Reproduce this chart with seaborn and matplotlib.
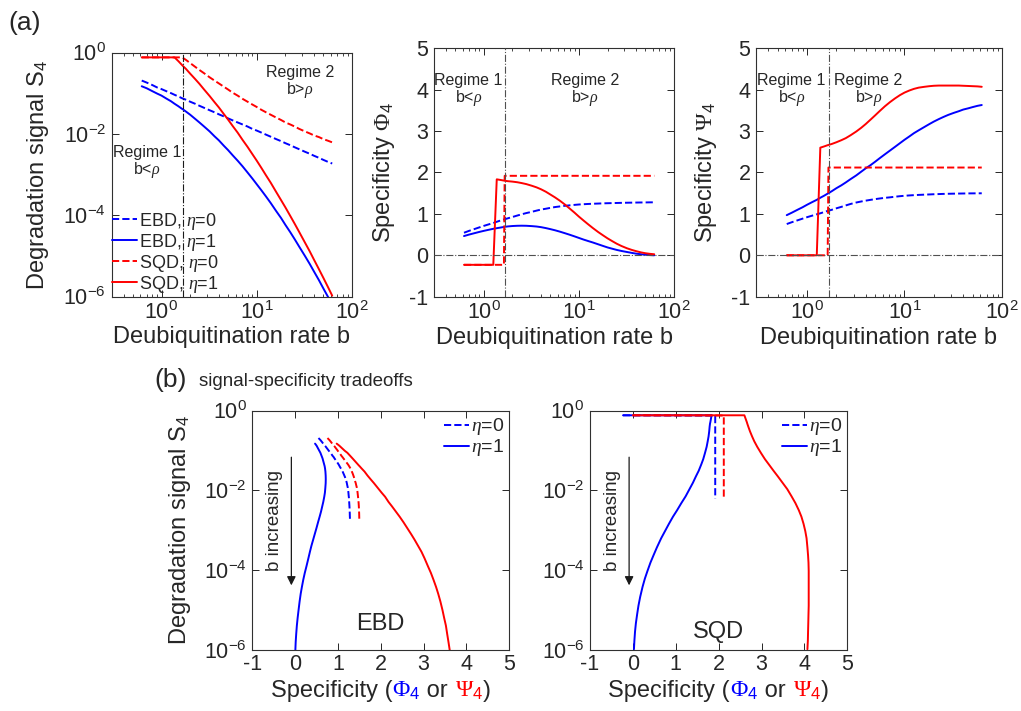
import numpy as np
import matplotlib
matplotlib.use("Agg")
import matplotlib.pyplot as plt
import seaborn as sns
from matplotlib.ticker import FixedLocator, NullLocator, LogLocator, NullFormatter
from matplotlib.offsetbox import TextArea, HPacker, AnchoredOffsetbox
from matplotlib.lines import Line2D

# ---------------- data ----------------
b_rate = [0.62, 0.7, 0.8, 0.9, 1.0, 1.12, 1.26, 1.37, 1.5, 1.63,
          1.66, 1.8, 2.0, 2.25, 2.5, 2.8, 3.2, 3.6, 4.0, 4.5,
          5.0, 5.6, 6.3, 7.1, 8.0, 9.0, 10, 11.2, 12.5, 14,
          16, 18, 20, 22.5, 25, 28, 32, 36, 40, 45,
          50, 56, 62]
rho = 1.67

# log10 of degradation signal S4
logS_EBD_eta0 = [-0.69, -0.74, -0.80, -0.86, -0.90, -0.95, -1.00, -1.04, -1.08, -1.12,
                 -1.13, -1.16, -1.21, -1.26, -1.31, -1.36, -1.42, -1.47, -1.52, -1.57,
                 -1.62, -1.67, -1.72, -1.77, -1.82, -1.88, -1.92, -1.97, -2.02, -2.07,
                 -2.13, -2.18, -2.23, -2.28, -2.33, -2.38, -2.44, -2.49, -2.54, -2.59,
                 -2.64, -2.69, -2.73]
logS_EBD_eta1 = [-0.83, -0.88, -0.95, -1.01, -1.06, -1.13, -1.20, -1.26, -1.32, -1.38,
                 -1.39, -1.45, -1.53, -1.63, -1.72, -1.82, -1.94, -2.06, -2.16, -2.29,
                 -2.40, -2.53, -2.66, -2.80, -2.95, -3.10, -3.24, -3.39, -3.54, -3.70,
                 -3.90, -4.07, -4.24, -4.42, -4.59, -4.78, -5.00, -5.20, -5.39, -5.60,
                 -5.80, -6.01, -6.20]
logS_SQD_eta0 = [-0.12, -0.12, -0.12, -0.12, -0.12, -0.12, -0.12, -0.12, -0.12, -0.12,
                 -0.125, -0.18, -0.26, -0.35, -0.43, -0.51, -0.61, -0.69, -0.76, -0.84,
                 -0.91, -0.99, -1.06, -1.14, -1.21, -1.28, -1.34, -1.41, -1.47, -1.53,
                 -1.60, -1.66, -1.72, -1.77, -1.82, -1.88, -1.94, -1.99, -2.04, -2.08,
                 -2.13, -2.17, -2.21]
logS_SQD_eta1 = [-0.12, -0.12, -0.12, -0.12, -0.12, -0.12, -0.12, -0.12, -0.21, -0.30,
                 -0.32, -0.40, -0.52, -0.65, -0.77, -0.91, -1.07, -1.22, -1.35, -1.51,
                 -1.65, -1.81, -1.97, -2.15, -2.32, -2.50, -2.66, -2.84, -3.02, -3.20,
                 -3.43, -3.63, -3.81, -4.02, -4.21, -4.42, -4.67, -4.89, -5.10, -5.33,
                 -5.54, -5.77, -5.98]

# specificity Phi4
Phi_EBD_eta0 = [0.545, 0.59, 0.635, 0.675, 0.71, 0.745, 0.78, 0.81, 0.84, 0.865,
                0.87, 0.895, 0.925, 0.96, 0.99, 1.02, 1.05, 1.08, 1.105, 1.125,
                1.145, 1.165, 1.18, 1.195, 1.207, 1.218, 1.227, 1.234, 1.24, 1.245,
                1.25, 1.255, 1.258, 1.261, 1.264, 1.267, 1.27, 1.272, 1.274, 1.276,
                1.277, 1.279, 1.28]
Phi_EBD_eta1 = [0.465, 0.5, 0.535, 0.565, 0.59, 0.615, 0.64, 0.655, 0.67, 0.685,
                0.688, 0.698, 0.707, 0.713, 0.715, 0.713, 0.705, 0.695, 0.68, 0.657,
                0.633, 0.605, 0.572, 0.535, 0.497, 0.457, 0.42, 0.38, 0.345, 0.31,
                0.265, 0.225, 0.19, 0.158, 0.13, 0.105, 0.08, 0.058, 0.04, 0.025,
                0.013, 0.005, 0.0]
Phi_SQD_eta0 = [-0.23, -0.23, -0.23, -0.23, -0.23, -0.23, -0.23, -0.23, -0.23, -0.23,
                1.92, 1.92, 1.92, 1.92, 1.92, 1.92, 1.92, 1.92, 1.92, 1.92,
                1.92, 1.92, 1.92, 1.92, 1.92, 1.92, 1.92, 1.92, 1.92, 1.92,
                1.92, 1.92, 1.92, 1.92, 1.92, 1.92, 1.92, 1.92, 1.92, 1.92,
                1.92, 1.92, 1.92]
Phi_SQD_eta1 = [-0.23, -0.23, -0.23, -0.23, -0.23, -0.23, -0.23, 1.835, 1.82, 1.805,
                1.80, 1.79, 1.78, 1.765, 1.745, 1.72, 1.68, 1.64, 1.595, 1.535,
                1.47, 1.40, 1.32, 1.23, 1.13, 1.03, 0.935, 0.84, 0.75, 0.66,
                0.56, 0.48, 0.41, 0.34, 0.28, 0.225, 0.17, 0.13, 0.10, 0.07,
                0.05, 0.035, 0.025]

# specificity Psi4
Psi_EBD_eta0 = [0.755, 0.8, 0.845, 0.885, 0.92, 0.955, 0.99, 1.015, 1.045, 1.072,
                1.077, 1.10, 1.135, 1.17, 1.205, 1.24, 1.275, 1.30, 1.32, 1.34,
                1.357, 1.373, 1.388, 1.40, 1.415, 1.428, 1.438, 1.446, 1.453, 1.459,
                1.465, 1.47, 1.475, 1.479, 1.483, 1.486, 1.489, 1.491, 1.493, 1.495,
                1.496, 1.497, 1.498]
Psi_EBD_eta1 = [0.97, 1.03, 1.10, 1.16, 1.22, 1.28, 1.34, 1.39, 1.44, 1.49,
                1.50, 1.55, 1.62, 1.69, 1.76, 1.84, 1.93, 2.02, 2.10, 2.18,
                2.26, 2.35, 2.44, 2.53, 2.62, 2.71, 2.79, 2.87, 2.95, 3.02,
                3.10, 3.17, 3.23, 3.29, 3.34, 3.39, 3.44, 3.48, 3.52, 3.55,
                3.58, 3.61, 3.63]
Psi_SQD_eta0 = [0, 0, 0, 0, 0, 0, 0, 0, 0, 0,
                2.12, 2.12, 2.12, 2.12, 2.12, 2.12, 2.12, 2.12, 2.12, 2.12,
                2.12, 2.12, 2.12, 2.12, 2.12, 2.12, 2.12, 2.12, 2.12, 2.12,
                2.12, 2.12, 2.12, 2.12, 2.12, 2.12, 2.12, 2.12, 2.12, 2.12,
                2.12, 2.12, 2.12]
Psi_SQD_eta1 = [0, 0, 0, 0, 0, 0, 0, 2.60, 2.63, 2.66,
                2.665, 2.69, 2.73, 2.78, 2.83, 2.90, 2.99, 3.08, 3.17, 3.28,
                3.38, 3.49, 3.60, 3.70, 3.79, 3.87, 3.93, 3.98, 4.02, 4.05,
                4.07, 4.085, 4.095, 4.10, 4.10, 4.10, 4.10, 4.10, 4.095, 4.09,
                4.085, 4.08, 4.07]

spec_ticks = [-1, 0, 1, 2, 3, 4, 5]
S_ticks = [1e-6, 1e-4, 1e-2, 1]

# ---------------- style ----------------
sns.set_theme(style="ticks")
plt.rcParams.update({
    "font.family": ["Liberation Sans", "DejaVu Sans"],
    "mathtext.fontset": "custom",
    "mathtext.rm": "Liberation Sans",
    "mathtext.it": "Liberation Serif:italic",
    "mathtext.bf": "Liberation Serif",
    "axes.unicode_minus": False,
    "text.color": "#262626",
    "axes.labelcolor": "#262626",
    "axes.edgecolor": "#303030",
    "axes.linewidth": 0.8,
})

BLUE = "#0000ff"
RED = "#ff0000"
LW = 1.4
TICK_FS = 15.5
LABEL_FS = 17

W, H = 1021, 711
fig = plt.figure(figsize=(W / 100, H / 100), dpi=100)


def add_ax(left, top, right, bottom):
    return fig.add_axes([left / W, 1 - bottom / H, (right - left) / W, (bottom - top) / H])


ax1 = add_ax(111.7, 52.5, 352, 296.5)
ax2 = add_ax(434, 48.3, 674, 296.7)
ax3 = add_ax(756, 48.3, 1002, 296.7)
ax4 = add_ax(252.3, 410.5, 509.3, 650)
ax5 = add_ax(590, 410.5, 847.3, 650)

b = np.array(b_rate)
S = {k: 10 ** np.array(v) for k, v in
     dict(EBD0=logS_EBD_eta0, EBD1=logS_EBD_eta1, SQD0=logS_SQD_eta0, SQD1=logS_SQD_eta1).items()}


def style_ax(ax):
    ax.tick_params(axis="both", which="both", direction="in", top=True, right=True,
                   bottom=True, left=True, colors="#262626", labelsize=TICK_FS)
    ax.tick_params(which="major", length=5, width=0.7)
    ax.tick_params(which="minor", length=2.5, width=0.6)
    ax.tick_params(axis="x", pad=3)
    ax.tick_params(axis="y", pad=4)
    for s in ax.spines.values():
        s.set_visible(True)
        s.set_linewidth(0.8)


def log_x(ax):
    ax.set_xscale("log")
    ax.set_xlim(0.3, 100)
    ax.xaxis.set_major_locator(FixedLocator([1, 10, 100]))
    ax.xaxis.set_minor_locator(LogLocator(base=10, subs=np.arange(2, 10), numticks=20))
    ax.xaxis.set_minor_formatter(NullFormatter())


def log_y(ax):
    ax.set_yscale("log")
    ax.set_ylim(1e-6, 1)
    ax.yaxis.set_major_locator(FixedLocator(S_ticks))
    ax.yaxis.set_minor_locator(NullLocator())


def line(ax, x, y, color, dashed, label=None):
    kw = dict(x=x, y=y, ax=ax, color=color, linewidth=LW, estimator=None, sort=False,
              linestyle="--" if dashed else "-")
    if label is None:
        kw["legend"] = False
    else:
        kw["label"] = label
    sns.lineplot(**kw)


# ---------------- panel a1: S4 vs b ----------------
for ax in (ax1, ax2, ax3):
    log_x(ax)
log_y(ax1)
line(ax1, b, S["EBD0"], BLUE, True, "EBD, $\\eta$=0")
line(ax1, b, S["EBD1"], BLUE, False, "EBD, $\\eta$=1")
line(ax1, b, S["SQD0"], RED, True, "SQD, $\\eta$=0")
line(ax1, b, S["SQD1"], RED, False, "SQD, $\\eta$=1")
ax1.axvline(rho, color="k", linestyle="-.", linewidth=0.8, zorder=3)
ax1.legend(loc="lower left", bbox_to_anchor=(-0.005, 0.0), frameon=False, fontsize=13,
           handlelength=1.35, handletextpad=0.15, labelspacing=0.0, borderpad=0,
           borderaxespad=0.1)
ax1.set_xlabel("Deubiquitination rate b", fontsize=LABEL_FS, labelpad=2)
ax1.set_ylabel("Degradation signal S$_4$", fontsize=LABEL_FS, labelpad=9)
ax1.text(0.146, 0.55, "Regime 1\nb<$\\rho$", transform=ax1.transAxes, ha="center", va="center",
         fontsize=11.5, linespacing=1.0)
ax1.text(0.784, 0.878, "Regime 2\nb>$\\rho$", transform=ax1.transAxes, ha="center", va="center",
         fontsize=11.5, linespacing=1.0)

# ---------------- panels a2, a3: specificities vs b ----------------
for ax, key, ylab, xr1, xr2 in ((ax2, "Phi", "Specificity $\\mathbf{\\Phi}_4$", 0.143, 0.629),
                                 (ax3, "Psi", "Specificity $\\mathbf{\\Psi}_4$", 0.145, 0.457)):
    data = dict(Phi=(Phi_EBD_eta0, Phi_EBD_eta1, Phi_SQD_eta0, Phi_SQD_eta1),
                Psi=(Psi_EBD_eta0, Psi_EBD_eta1, Psi_SQD_eta0, Psi_SQD_eta1))[key]
    line(ax, b, data[0], BLUE, True)
    line(ax, b, data[1], BLUE, False)
    line(ax, b, data[2], RED, True)
    line(ax, b, data[3], RED, False)
    ax.set_ylim(-1, 5)
    ax.yaxis.set_major_locator(FixedLocator(spec_ticks))
    ax.axvline(rho, color="#505050", linestyle="-.", linewidth=0.8, zorder=3)
    ax.axhline(0, color="#505050", linestyle="-.", linewidth=0.8, zorder=3)
    ax.set_xlabel("Deubiquitination rate b", fontsize=LABEL_FS, labelpad=2)
    ax.set_ylabel(ylab, fontsize=LABEL_FS, labelpad=9)
    ax.text(xr1, 0.832, "Regime 1\nb<$\\rho$", transform=ax.transAxes, ha="center", va="center",
            fontsize=11.5, linespacing=1.0)
    ax.text(xr2, 0.832, "Regime 2\nb>$\\rho$", transform=ax.transAxes, ha="center", va="center",
            fontsize=11.5, linespacing=1.0)

# ---------------- panels b: signal vs specificity ----------------
for ax, name, phis, psis, s0, s1, txt_y in (
        (ax4, "EBD", (Phi_EBD_eta0, Phi_EBD_eta1), (Psi_EBD_eta0, Psi_EBD_eta1), S["EBD0"], S["EBD1"], 0.11),
        (ax5, "SQD", (Phi_SQD_eta0, Phi_SQD_eta1), (Psi_SQD_eta0, Psi_SQD_eta1), S["SQD0"], S["SQD1"], 0.075)):
    log_y(ax)
    ax.set_xlim(-1, 5)
    ax.xaxis.set_major_locator(FixedLocator(spec_ticks))
    line(ax, phis[0], s0, BLUE, True)
    line(ax, phis[1], s1, BLUE, False)
    line(ax, psis[0], s0, RED, True)
    line(ax, psis[1], s1, RED, False)
    handles = [Line2D([], [], color=BLUE, lw=LW, ls="--"), Line2D([], [], color=BLUE, lw=LW, ls="-")]
    ax.legend(handles, ["$\\eta$=0", "$\\eta$=1"], loc="upper right", bbox_to_anchor=(0.98, 0.975),
              frameon=False, fontsize=14, handlelength=1.3, handletextpad=0.1,
              labelspacing=0.0, borderpad=0, borderaxespad=0)
    ax.text(0.5, txt_y, name, transform=ax.transAxes, ha="center", va="center", fontsize=17)
    ax.annotate("", xy=(0.152, 0.27), xytext=(0.152, 0.805), xycoords="axes fraction",
                arrowprops=dict(arrowstyle="-|>", color="k", lw=0.9, mutation_scale=13,
                                shrinkA=0, shrinkB=0))
    ax.text(0.088, 0.54, "b increasing", transform=ax.transAxes, rotation=90,
            ha="center", va="center", fontsize=13.5)
    parts = [TextArea("Specificity (", textprops=dict(fontsize=LABEL_FS, color="#262626")),
             TextArea("$\\mathbf{\\Phi}_4$", textprops=dict(fontsize=LABEL_FS, color=BLUE)),
             TextArea(" or ", textprops=dict(fontsize=LABEL_FS, color="#262626")),
             TextArea("$\\mathbf{\\Psi}_4$", textprops=dict(fontsize=LABEL_FS, color=RED)),
             TextArea(")", textprops=dict(fontsize=LABEL_FS, color="#262626"))]
    box = HPacker(children=parts, align="baseline", pad=0, sep=0)
    anch = AnchoredOffsetbox(loc="upper center", child=box, pad=0, borderpad=0, frameon=False,
                             bbox_to_anchor=(0.5, -0.125), bbox_transform=ax.transAxes)
    ax.add_artist(anch)
    ax.set_xlabel("")
    ax.set_ylabel("")

ax4.set_ylabel("Degradation signal S$_4$", fontsize=LABEL_FS, labelpad=8)

for ax in (ax1, ax2, ax3, ax4, ax5):
    style_ax(ax)

fig.text(8 / W, 1 - 23 / H, "(a)", fontsize=19, ha="left", va="center")
fig.text(154 / W, 1 - 380 / H, "(b)", fontsize=19, ha="left", va="center")
fig.text(199 / W, 1 - 381 / H, "signal-specificity tradeoffs", fontsize=13.5, ha="left", va="center")

fig.savefig("out.png", dpi=100)
